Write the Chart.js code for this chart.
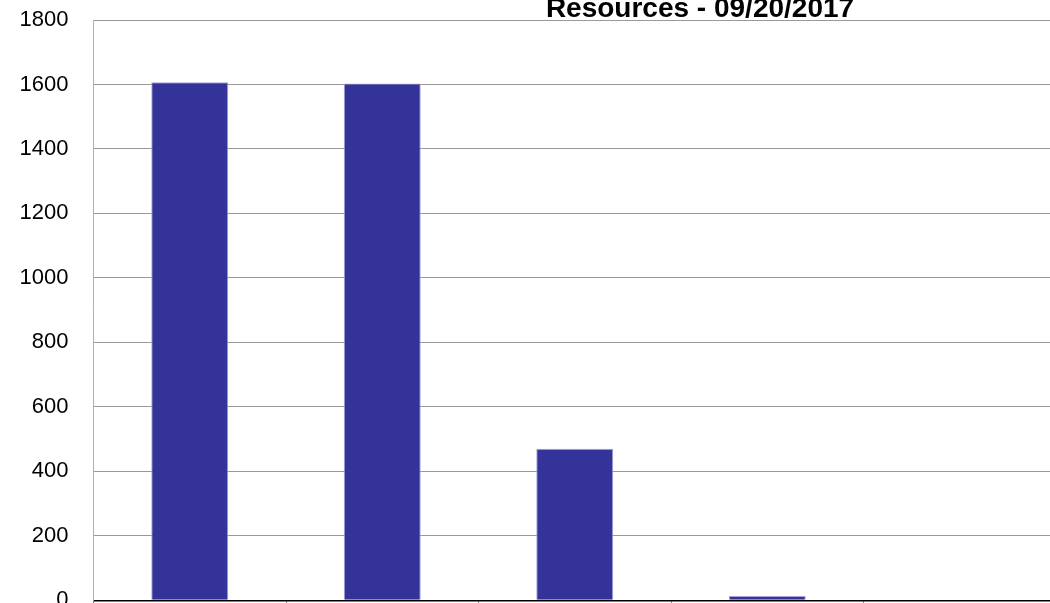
<!DOCTYPE html>
<html>
<head>
<meta charset="utf-8">
<title>Resources - 09/20/2017</title>
<script src="https://cdn.jsdelivr.net/npm/chart.js@4/dist/chart.umd.min.js"></script>
<style>
  html, body { margin: 0; padding: 0; background: #fff; overflow: hidden; }
  #wrap { position: absolute; left: 0; top: 0; }
</style>
</head>
<body>
<div id="wrap"><canvas id="bar-chart" width="1060" height="614"></canvas></div>
<script>
  // ------------------------------------------------------
  // @Data
  // ------------------------------------------------------
  const chartTitle = 'Resources - 09/20/2017';
  const categories = ['Category 1', 'Category 2', 'Category 3', 'Category 4', 'Category 5'];
  const resourceCounts = [1607, 1603, 470, 13, 0];
  const yTicks = [0, 200, 400, 600, 800, 1000, 1200, 1400, 1600, 1800];

  // title sits off-centre in the original (the chart is cropped on the right)
  const titlePlugin = {
    id: 'croppedTitle',
    afterDraw(chart) {
      const ctx = chart.ctx;
      ctx.save();
      ctx.font = 'bold 28px "Liberation Sans"';
      ctx.fillStyle = '#000';
      ctx.textAlign = 'center';
      ctx.textBaseline = 'alphabetic';
      ctx.fillText(chartTitle, 700, 17);
      ctx.restore();
    },
  };

  const barChartBox = document.getElementById('bar-chart');

  if (barChartBox) {
    const barCtx = barChartBox.getContext('2d');

    new Chart(barCtx, {
      type: 'bar',
      data: {
        labels: categories,
        datasets: [{
          label              : 'Resources',
          backgroundColor    : '#333399',
          borderColor        : '#a5a5dc',
          borderWidth        : 1,
          data               : resourceCounts,
          barPercentage      : 0.4,
          categoryPercentage : 1,
        }],
      },
      options: {
        responsive: false,
        animation: false,
        devicePixelRatio: 1,
        layout: {
          padding: { top: 20, left: 0, right: 4, bottom: 7.7 },
        },
        plugins: {
          legend: { display: false },
          tooltip: { enabled: false },
          title: { display: false },
        },
        scales: {
          x: {
            grid: {
              drawOnChartArea: false,
              drawTicks: true,
              tickLength: 6,
              color: '#808080',
              lineWidth: 1,
            },
            border: { color: '#000', width: 1.5 },
            ticks: { display: false },
          },
          y: {
            min: 0,
            max: 1800,
            afterFit(scale) { scale.width = 93.5; },
            afterBuildTicks(scale) { scale.ticks = yTicks.map(v => ({ value: v })); },
            grid: {
              drawTicks: true,
              tickLength: 25,
              tickColor: 'rgba(0,0,0,0)',
              color: '#999',
              lineWidth: 1,
            },
            border: { color: '#b0b0b0', width: 1 },
            ticks: {
              padding: 0,
              color: '#000',
              font: { family: '"Liberation Sans"', size: 22 },
              callback: v => String(v),
            },
          },
        },
      },
      plugins: [titlePlugin],
    });
  }
</script>
</body>
</html>
